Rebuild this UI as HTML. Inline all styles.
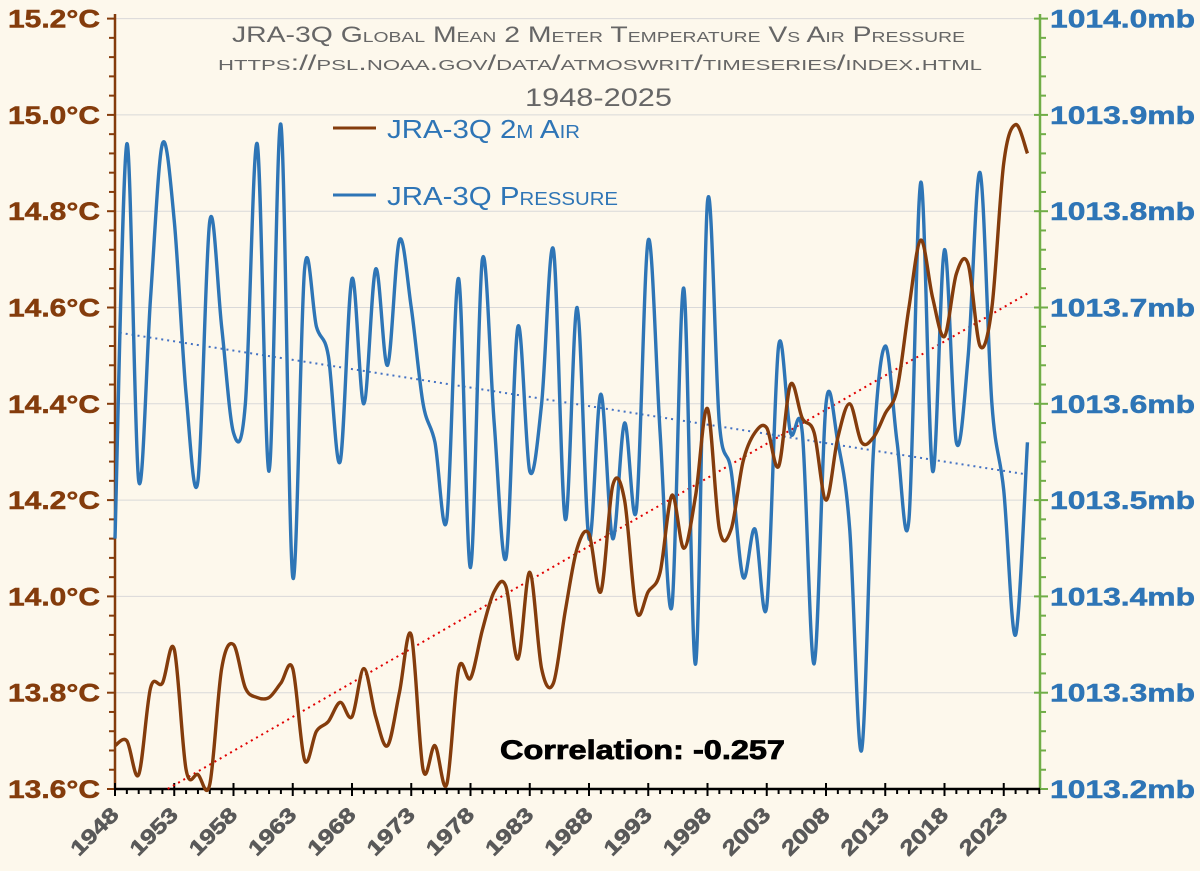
<!DOCTYPE html>
<html><head><meta charset="utf-8"><style>
body{margin:0;background:#FDF8EC;}
svg{display:block;font-family:"Liberation Sans",sans-serif;}
</style></head><body>
<svg id="chart" width="1200" height="871" viewBox="0 0 1200 871" xmlns="http://www.w3.org/2000/svg">
<rect width="1200" height="871" fill="#FDF8EC"/>
<g id="grid"></g>
<g id="axes"></g>
<g id="series"></g>
<text x="232" y="42" textLength="733" lengthAdjust="spacingAndGlyphs" font-size="22" fill="#666" style="font-variant:small-caps">JRA-3Q Global Mean 2 Meter Temperature Vs Air Pressure</text>
<text x="218" y="70" textLength="764" lengthAdjust="spacingAndGlyphs" font-size="21" fill="#666" style="font-variant:small-caps">https://psl.noaa.gov/data/atmoswrit/timeseries/index.html</text>
<text x="525" y="106" textLength="147" lengthAdjust="spacingAndGlyphs" font-size="25" fill="#666">1948-2025</text>
<g>
<line x1="333" y1="128" x2="376" y2="128" stroke="#843C0C" stroke-width="3"/>
<text x="387" y="138" textLength="193" lengthAdjust="spacingAndGlyphs" font-size="26" fill="#2E75B6" style="font-variant:small-caps">JRA-3Q 2m Air</text>
<line x1="333" y1="195" x2="376" y2="195" stroke="#2E75B6" stroke-width="3"/>
<text x="387" y="205" textLength="231" lengthAdjust="spacingAndGlyphs" font-size="26" fill="#2E75B6" style="font-variant:small-caps">JRA-3Q Pressure</text>
</g>
<text x="500" y="759" textLength="285" lengthAdjust="spacingAndGlyphs" font-size="27" font-weight="bold" fill="#000" stroke="#000" stroke-width="0.8">Correlation: -0.257</text>
</svg>
<script>
const years = [];
for (let y = 1948; y <= 2025; y++) years.push(y);
const tempValues = [13.69,13.70,13.63,13.81,13.82,13.89,13.64,13.63,13.61,13.85,13.90,13.81,13.79,13.79,13.82,13.85,13.66,13.72,13.74,13.78,13.75,13.85,13.75,13.69,13.80,13.92,13.64,13.69,13.61,13.85,13.83,13.93,14.01,14.02,13.87,14.05,13.85,13.82,13.97,14.10,14.13,14.01,14.23,14.20,13.97,14.01,14.05,14.21,14.10,14.21,14.39,14.14,14.14,14.28,14.34,14.35,14.27,14.44,14.37,14.34,14.20,14.33,14.40,14.32,14.33,14.38,14.43,14.60,14.74,14.62,14.54,14.67,14.69,14.52,14.60,14.90,14.98,14.92];
const pressureValues = [1013.46,1013.87,1013.52,1013.71,1013.87,1013.79,1013.61,1013.52,1013.79,1013.68,1013.57,1013.60,1013.87,1013.53,1013.89,1013.42,1013.74,1013.68,1013.65,1013.54,1013.73,1013.60,1013.74,1013.64,1013.77,1013.70,1013.60,1013.56,1013.48,1013.73,1013.43,1013.75,1013.58,1013.44,1013.68,1013.53,1013.60,1013.76,1013.48,1013.70,1013.46,1013.61,1013.46,1013.58,1013.49,1013.77,1013.57,1013.39,1013.72,1013.33,1013.81,1013.58,1013.53,1013.42,1013.47,1013.39,1013.66,1013.57,1013.57,1013.33,1013.60,1013.56,1013.47,1013.24,1013.55,1013.66,1013.56,1013.48,1013.83,1013.53,1013.76,1013.56,1013.65,1013.84,1013.60,1013.51,1013.36,1013.56];
const leftTicks = ["13.6°C","13.8°C","14.0°C","14.2°C","14.4°C","14.6°C","14.8°C","15.0°C","15.2°C"];
const rightTicks = ["1013.2mb","1013.3mb","1013.4mb","1013.5mb","1013.6mb","1013.7mb","1013.8mb","1013.9mb","1014.0mb"];
const xTickYears = [1948,1953,1958,1963,1968,1973,1978,1983,1988,1993,1998,2003,2008,2013,2018,2023];

const NS = "http://www.w3.org/2000/svg";
const X0 = 115, XSTEP = 11.85, YB = 789, YT = 18.6, XR = 1040;
const xOf = yr => X0 + (yr - 1948) * XSTEP;
const yT = v => YB - (v - 13.6) / 1.6 * (YB - YT);
const yP = v => YB - (v - 1013.2) / 0.8 * (YB - YT);
function mk(tag, attrs, parent) {
  const e = document.createElementNS(NS, tag);
  for (const k in attrs) e.setAttribute(k, attrs[k]);
  parent.appendChild(e);
  return e;
}
const grid = document.getElementById('grid'), axes = document.getElementById('axes'), series = document.getElementById('series');

leftTicks.forEach((t, i) => {
  const v = 13.6 + i * 0.2, y = yT(v);
  if (i > 0) {
    const g = mk('line', {x1: X0, x2: XR, y1: y, y2: y, stroke: '#D9D9D9', 'stroke-width': 1}, grid);
    
    
  }
  const lt = mk('text', {x: 8, y: y + 9, textLength: 92, lengthAdjust: 'spacingAndGlyphs', 'font-size': 25, 'font-weight': 'bold', fill: '#843C0C', stroke: '#843C0C', 'stroke-width': 0.5}, axes);
  lt.textContent = t;
  
  
  const rt = mk('text', {x: 1050, y: y + 9, textLength: 145, lengthAdjust: 'spacingAndGlyphs', 'font-size': 25, 'font-weight': 'bold', fill: '#2E75B6', stroke: '#2E75B6', 'stroke-width': 0.5}, axes);
  rt.textContent = rightTicks[i];
  
  
});
for (let i = 0; i <= 40; i++) {
  const y = YB - i * (YB - YT) / 40, major = i % 5 === 0;
  const a = mk('line', {x1: X0 - (major ? 8 : 6), x2: X0, y1: y, y2: y, stroke: '#843C0C', 'stroke-width': 2}, axes);
  
  
  const b = mk('line', {x1: XR, x2: XR + (major ? 8 : 6), y1: y, y2: y, stroke: '#70AD47', 'stroke-width': 2}, axes);
  if (major) b.setAttribute('x1', XR - 6);
  
  
}
let l = mk('line', {x1: X0, x2: X0, y1: 14, y2: YB, stroke: '#843C0C', 'stroke-width': 2.5}, axes);


l = mk('line', {x1: XR, x2: XR, y1: 14, y2: YB, stroke: '#70AD47', 'stroke-width': 2.5}, axes);


l = mk('line', {x1: X0, x2: XR, y1: YB, y2: YB, stroke: '#000', 'stroke-width': 2.5}, axes);


for (let yr = 1948; yr <= 2026; yr++) {
  const major = (yr - 1948) % 5 === 0;
  const t = mk('line', {x1: xOf(yr), x2: xOf(yr), y1: YB - (major ? 6 : 0), y2: YB + (major ? 7 : 5), stroke: '#000', 'stroke-width': 2}, axes);
  
  
}
xTickYears.forEach(yr => {
  const x = xOf(yr) + 5, y = 816;
  const t = mk('text', {x: x, y: y, 'text-anchor': 'end', textLength: 58, lengthAdjust: 'spacingAndGlyphs', 'font-size': 21, 'font-weight': 'bold', fill: '#595959', stroke: '#595959', 'stroke-width': 0.6, transform: `rotate(-45 ${x} ${y})`}, axes);
  t.textContent = yr;
  
  
});

function smoothPath(pts) {
  let d = `M${pts[0][0]},${pts[0][1]}`;
  for (let i = 0; i < pts.length - 1; i++) {
    const p0 = pts[Math.max(0, i - 1)], p1 = pts[i], p2 = pts[i + 1], p3 = pts[Math.min(pts.length - 1, i + 2)];
    const c1x = p1[0] + (p2[0] - p0[0]) / 6, c1y = p1[1] + (p2[1] - p0[1]) / 6;
    const c2x = p2[0] - (p3[0] - p1[0]) / 6, c2y = p2[1] - (p3[1] - p1[1]) / 6;
    d += ` C${c1x},${c1y} ${c2x},${c2y} ${p2[0]},${p2[1]}`;
  }
  return d;
}
function trend(vals) {
  const n = vals.length; let sx = 0, sy = 0, sxy = 0, sxx = 0;
  vals.forEach((v, i) => { sx += i; sy += v; sxy += i * v; sxx += i * i; });
  const b = (n * sxy - sx * sy) / (n * sxx - sx * sx), a = (sy - b * sx) / n;
  return i => a + b * i;
}
const tf = trend(tempValues);
let i0 = 0; while (yT(tf(i0)) > YB) i0 += 0.05;
let tl = mk('line', {x1: xOf(1948 + i0), y1: yT(tf(i0)), x2: xOf(2025), y2: yT(tf(77)), stroke: '#E00000', 'stroke-width': 2, 'stroke-dasharray': '2 4'}, series);


const pf = trend(pressureValues);
tl = mk('line', {x1: xOf(1948.4), y1: yP(pf(0.4)), x2: xOf(2025), y2: yP(pf(77)), stroke: '#4472C4', 'stroke-width': 2, 'stroke-dasharray': '2 4'}, series);



const pp = mk('path', {d: smoothPath(pressureValues.map((v, i) => [xOf(years[i]), yP(v)])), fill: 'none', stroke: '#2E75B6', 'stroke-width': 3.4, 'stroke-linejoin': 'round'}, series);


const tp = mk('path', {d: smoothPath(tempValues.map((v, i) => [xOf(years[i]), yT(v)])), fill: 'none', stroke: '#843C0C', 'stroke-width': 3.4, 'stroke-linejoin': 'round'}, series);


</script>
</body></html>
